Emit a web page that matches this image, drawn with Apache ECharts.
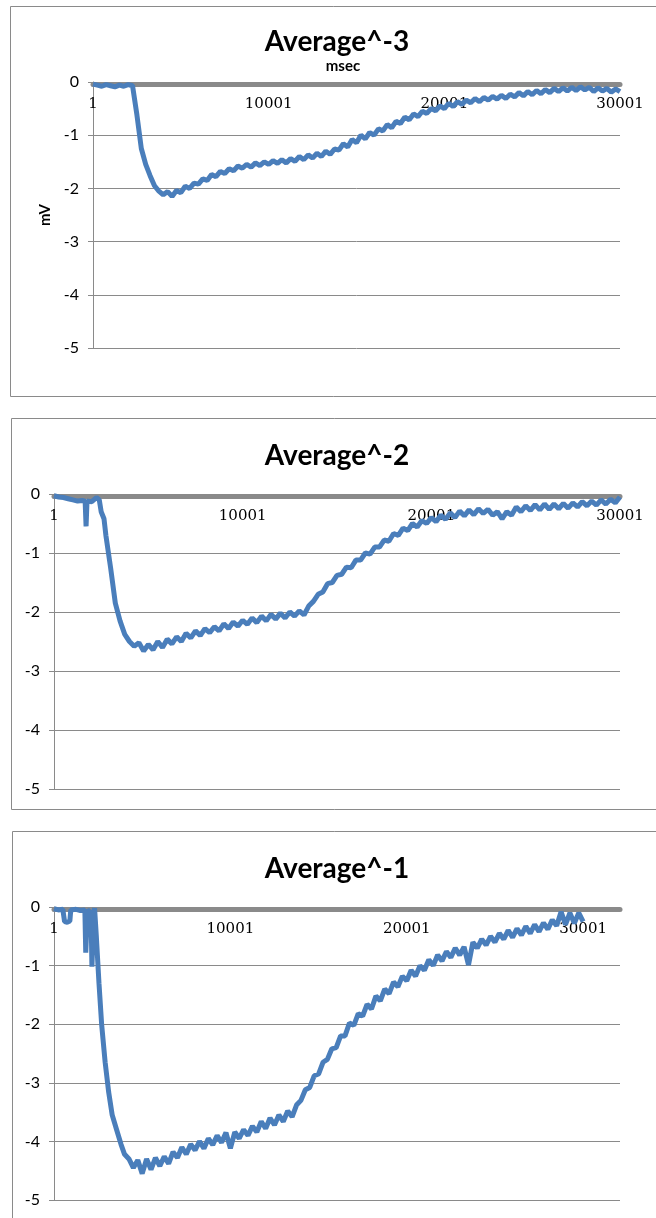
<!DOCTYPE html>
<html>
<head>
<meta charset="utf-8">
<script src="https://cdn.jsdelivr.net/npm/echarts@6/dist/echarts.min.js"></script>
<style>
html,body{margin:0;padding:0;background:#fff;}
#c{width:656px;height:1218px;}
</style>
</head>
<body>
<div id="c"></div>
<script>
// Panel titles and axis labels
const titles = ['Average^-3', 'Average^-2', 'Average^-1'];
const yTicks = [0, -1, -2, -3, -4, -5];
const xTickLabels = ['1', '10001', '20001', '30001'];

// Panel 1: Average^-3 (time offset in ms, value in mV)
const t1 = [0,250,500,750,1000,1250,1500,1750,2000,2250,2500,2750,3000,3250,3500,3750,4000,4250,4500,4750,5000,5250,5500,5750,6000,6250,6500,6750,7000,7250,7500,7750,8000,8250,8500,8750,9000,9250,9500,9750,10000,10250,10500,10750,11000,11250,11500,11750,12000,12250,12500,12750,13000,13250,13500,13750,14000,14250,14500,14750,15000,15250,15500,15750,16000,16250,16500,16750,17000,17250,17500,17750,18000,18250,18500,18750,19000,19250,19500,19750,20000,20250,20500,20750,21000,21250,21500,21750,22000,22250,22500,22750,23000,23250,23500,23750,24000,24250,24500,24750,25000,25250,25500,25750,26000,26250,26500,26750,27000,27250,27500,27750,28000,28250,28500,28750,29000,29250,29500,29750,30000];
const v1 = [-0.04,-0.06,-0.08,-0.05,-0.07,-0.09,-0.06,-0.08,-0.05,-0.07,-0.62,-1.25,-1.55,-1.76,-1.95,-2.05,-2.12,-2.06,-2.15,-2.04,-2.08,-1.96,-2.0,-1.9,-1.92,-1.82,-1.85,-1.74,-1.78,-1.68,-1.72,-1.63,-1.67,-1.58,-1.62,-1.55,-1.6,-1.52,-1.57,-1.5,-1.55,-1.48,-1.53,-1.46,-1.52,-1.44,-1.49,-1.4,-1.46,-1.37,-1.43,-1.34,-1.4,-1.3,-1.36,-1.26,-1.28,-1.16,-1.22,-1.08,-1.14,-1.0,-1.07,-0.95,-1.0,-0.88,-0.92,-0.8,-0.86,-0.74,-0.78,-0.66,-0.71,-0.6,-0.65,-0.55,-0.59,-0.5,-0.54,-0.45,-0.5,-0.4,-0.46,-0.37,-0.42,-0.34,-0.39,-0.31,-0.37,-0.29,-0.34,-0.27,-0.32,-0.25,-0.31,-0.23,-0.28,-0.2,-0.26,-0.18,-0.24,-0.16,-0.22,-0.14,-0.2,-0.12,-0.18,-0.11,-0.17,-0.1,-0.16,-0.09,-0.15,-0.1,-0.18,-0.11,-0.17,-0.12,-0.19,-0.13,-0.18];

// Panel 2: Average^-2
const t2 = [0,250,500,750,1000,1250,1500,1650,1700,1750,2000,2250,2400,2500,2650,2750,3000,3250,3500,3750,4000,4250,4500,4750,5000,5250,5500,5750,6000,6250,6500,6750,7000,7250,7500,7750,8000,8250,8500,8750,9000,9250,9500,9750,10000,10250,10500,10750,11000,11250,11500,11750,12000,12250,12500,12750,13000,13250,13500,13750,14000,14250,14500,14750,15000,15250,15500,15750,16000,16250,16500,16750,17000,17250,17500,17750,18000,18250,18500,18750,19000,19250,19500,19750,20000,20250,20500,20750,21000,21250,21500,21750,22000,22250,22500,22750,23000,23250,23500,23750,24000,24250,24500,24750,25000,25250,25500,25750,26000,26250,26500,26750,27000,27250,27500,27750,28000,28250,28500,28750,29000,29250,29500,29750,30000];
const v2 = [-0.03,-0.05,-0.06,-0.08,-0.1,-0.12,-0.11,-0.12,-0.55,-0.12,-0.13,-0.06,-0.1,-0.3,-0.42,-0.7,-1.25,-1.85,-2.15,-2.38,-2.5,-2.58,-2.52,-2.66,-2.55,-2.64,-2.5,-2.6,-2.46,-2.54,-2.42,-2.5,-2.36,-2.44,-2.32,-2.4,-2.28,-2.35,-2.25,-2.32,-2.2,-2.28,-2.17,-2.24,-2.14,-2.21,-2.1,-2.18,-2.07,-2.15,-2.04,-2.12,-2.02,-2.1,-2.0,-2.07,-1.98,-2.05,-1.9,-1.82,-1.7,-1.66,-1.52,-1.5,-1.38,-1.36,-1.24,-1.25,-1.12,-1.12,-1.0,-1.02,-0.9,-0.9,-0.78,-0.8,-0.67,-0.7,-0.58,-0.62,-0.5,-0.56,-0.45,-0.5,-0.4,-0.47,-0.36,-0.43,-0.32,-0.4,-0.29,-0.37,-0.27,-0.35,-0.25,-0.33,-0.26,-0.36,-0.3,-0.42,-0.3,-0.36,-0.22,-0.3,-0.2,-0.28,-0.18,-0.27,-0.17,-0.26,-0.17,-0.25,-0.16,-0.24,-0.15,-0.22,-0.13,-0.2,-0.12,-0.19,-0.1,-0.17,-0.09,-0.15,-0.05];

// Panel 3: Average^-1
const t3 = [0,250,500,600,750,900,950,1250,1500,1750,1800,1850,1900,2000,2100,2150,2200,2250,2300,2400,2550,2700,2900,3100,3300,3550,3800,4000,4250,4500,4750,5000,5250,5500,5750,6000,6250,6500,6750,7000,7250,7500,7750,8000,8250,8500,8750,9000,9250,9500,9750,10000,10250,10500,10750,11000,11250,11500,11750,12000,12250,12500,12750,13000,13250,13500,13750,14000,14250,14500,14750,15000,15250,15500,15750,16000,16250,16500,16750,17000,17250,17500,17750,18000,18250,18500,18750,19000,19250,19500,19750,20000,20250,20500,20750,21000,21250,21500,21750,22000,22250,22500,22750,23000,23250,23500,23750,24000,24250,24500,24750,25000,25250,25500,25750,26000,26250,26500,26750,27000,27250,27500,27750,28000,28250,28500,28750,29000,29250,29500,29750,30000];
const v3 = [-0.03,-0.05,-0.04,-0.25,-0.26,-0.24,-0.05,-0.04,-0.06,-0.05,-0.78,-0.8,-0.05,-0.02,-0.1,-1.02,-1.05,-0.1,-0.02,-0.5,-1.3,-2.0,-2.65,-3.16,-3.55,-3.8,-4.05,-4.22,-4.3,-4.45,-4.32,-4.55,-4.3,-4.48,-4.28,-4.42,-4.26,-4.38,-4.18,-4.28,-4.1,-4.22,-4.05,-4.15,-4.0,-4.12,-3.95,-4.06,-3.9,-4.02,-3.85,-4.12,-3.84,-3.95,-3.8,-3.9,-3.74,-3.84,-3.66,-3.78,-3.6,-3.72,-3.55,-3.66,-3.48,-3.58,-3.38,-3.3,-3.12,-3.08,-2.88,-2.85,-2.65,-2.6,-2.42,-2.4,-2.2,-2.2,-1.98,-2.02,-1.82,-1.86,-1.66,-1.74,-1.52,-1.6,-1.4,-1.48,-1.28,-1.36,-1.18,-1.26,-1.08,-1.18,-1.0,-1.08,-0.9,-1.0,-0.82,-0.92,-0.76,-0.86,-0.7,-0.82,-0.68,-0.99,-0.6,-0.7,-0.55,-0.65,-0.5,-0.6,-0.45,-0.55,-0.4,-0.52,-0.37,-0.48,-0.33,-0.45,-0.3,-0.42,-0.27,-0.38,-0.22,-0.32,-0.08,-0.3,-0.1,-0.28,-0.1,-0.25];

const panels = [
  {t: t1, v: v1, xMax: 30000, grid: {left: 93, right: 36, top: 82, height: 266}, frame: {x: 10.5, y: 6.5, h: 390}, titleY: 42},
  {t: t2, v: v2, xMax: 30000, grid: {left: 54, right: 36, top: 494, height: 295}, frame: {x: 11.5, y: 418.5, h: 391}, titleY: 456},
  {t: t3, v: v3, xMax: 32090, grid: {left: 54, right: 36, top: 907, height: 293}, frame: {x: 12.5, y: 831.5, h: 500}, titleY: 869}
];

const chart = echarts.init(document.getElementById('c'), null, {renderer: 'canvas'});
const grey = '#8a8a8a';
const option = {
  backgroundColor: '#ffffff',
  animation: false,
  grid: panels.map(p => p.grid),
  xAxis: panels.map((p, i) => ({
    type: 'value', gridIndex: i, position: 'top', offset: -2,
    min: 0, max: p.xMax, interval: 10000,
    axisLine: {show: true, onZero: false, lineStyle: {color: grey, width: 5}},
    axisTick: {show: false},
    splitLine: {show: false},
    axisLabel: {
      inside: true, margin: 13, showMinLabel: true, showMaxLabel: true,
      color: '#000', fontFamily: 'DejaVu Serif', fontSize: 15,
      formatter: v => (v % 10000 === 0 ? xTickLabels[v / 10000] : '')
    }
  })),
  yAxis: panels.map((p, i) => ({
    type: 'value', gridIndex: i, min: yTicks[yTicks.length - 1], max: yTicks[0], interval: 1,
    name: i === 0 ? 'mV' : '', nameLocation: 'middle', nameRotate: 90, nameGap: 39,
    nameTextStyle: {color: '#000', fontFamily: 'Lato', fontWeight: 'bold', fontSize: 15},
    axisLine: {show: true, lineStyle: {color: grey, width: 1}},
    axisTick: {show: true, length: 5, lineStyle: {color: grey}},
    splitLine: {show: true, lineStyle: {color: grey, width: 1}},
    axisLabel: {margin: 14, color: '#000', fontFamily: 'Lato', fontSize: 16}
  })),
  series: panels.map((p, i) => ({
    type: 'line', xAxisIndex: i, yAxisIndex: i, showSymbol: false, symbol: 'none',
    lineStyle: {color: '#4a7ebb', width: 5}, z: 5,
    data: p.t.map((x, k) => [x, p.v[k]])
  })),
  graphic: [].concat(
    panels.map(p => ({
      type: 'rect', silent: true, z: -1,
      shape: {x: p.frame.x, y: p.frame.y, width: 700, height: p.frame.h},
      style: {fill: 'none', stroke: grey, lineWidth: 1}
    })),
    panels.map((p, i) => ({
      type: 'text', silent: true,
      x: 337, y: p.titleY,
      style: {text: titles[i], fill: '#000', font: 'bold 28px Lato', textAlign: 'center', textVerticalAlign: 'middle'}
    })),
    [{
      type: 'text', silent: true, x: 343, y: 66,
      style: {text: 'msec', fill: '#000', font: 'bold 15px Lato', textAlign: 'center', textVerticalAlign: 'middle'}
    }]
  )
};
chart.setOption(option);
</script>
</body>
</html>
